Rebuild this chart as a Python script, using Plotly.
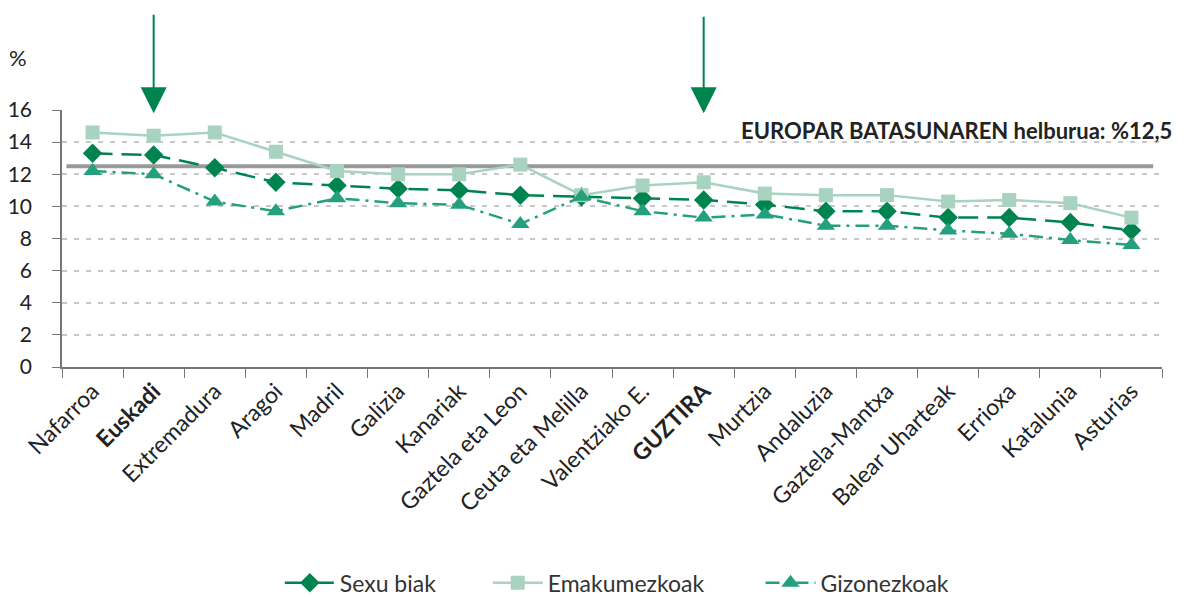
import plotly.graph_objects as go

categories = ["Nafarroa", "Euskadi", "Extremadura", "Aragoi", "Madril", "Galizia",
              "Kanariak", "Gaztela eta Leon", "Ceuta eta Melilla", "Valentziako E.",
              "GUZTIRA", "Murtzia", "Andaluzia", "Gaztela-Mantxa", "Balear Uharteak",
              "Errioxa", "Katalunia", "Asturias"]
tick_labels = ["Nafarroa", "<b>Euskadi</b>", "Extremadura", "Aragoi", "Madril", "Galizia",
               "Kanariak", "Gaztela eta Leon", "Ceuta eta Melilla", "Valentziako E.",
               "<b>GUZTIRA</b>", "Murtzia", "Andaluzia", "Gaztela-Mantxa", "Balear Uharteak",
               "Errioxa", "Katalunia", "Asturias"]
sexu_biak = [13.3, 13.2, 12.4, 11.5, 11.3, 11.1, 11.0, 10.7, 10.6, 10.5,
             10.4, 10.1, 9.7, 9.7, 9.3, 9.3, 9.0, 8.5]
emakumezkoak = [14.6, 14.4, 14.6, 13.4, 12.2, 12.0, 12.0, 12.6, 10.7, 11.3,
                11.5, 10.8, 10.7, 10.7, 10.3, 10.4, 10.2, 9.3]
gizonezkoak = [12.2, 12.0, 10.3, 9.7, 10.5, 10.2, 10.1, 8.9, 10.6, 9.7,
               9.3, 9.5, 8.8, 8.8, 8.5, 8.3, 7.9, 7.6]
target = 12.5
y_ticks = [0, 2, 4, 6, 8, 10, 12, 14, 16]

FONT = "Lato"
DARK = "#00844f"
LIGHT = "#a8d3c0"
MID = "#24a07e"

fig = go.Figure()
fig.add_trace(go.Scatter(
    x=categories, y=sexu_biak, name="Sexu biak", mode="lines+markers", legend="legend",
    line=dict(color=DARK, width=2.5, dash="20px,9px"),
    marker=dict(symbol="diamond", size=15, color=DARK)))
fig.add_trace(go.Scatter(
    x=categories, y=emakumezkoak, name="Emakumezkoak", mode="lines+markers", legend="legend2",
    line=dict(color=LIGHT, width=2.5),
    marker=dict(symbol="square", size=14, color=LIGHT)))
fig.add_trace(go.Scatter(
    x=categories, y=gizonezkoak, name="Gizonezkoak", mode="lines+markers", legend="legend3",
    line=dict(color=MID, width=2.5, dash="14px,6px,3px,6px"),
    marker=dict(symbol="triangle-up", size=16, color=MID)))

fig.add_shape(type="line", xref="paper", yref="y", x0=0.004, x1=0.992,
              y0=target, y1=target, line=dict(color="#999999", width=4), layer="below")

# arrows
for cat, ay in (("Euskadi", -100), ("GUZTIRA", -98)):
    fig.add_annotation(x=cat, y=15.8, ax=0, ay=ay, xref="x", yref="y",
                       showarrow=True, arrowhead=2, arrowsize=2.6, arrowwidth=2,
                       arrowcolor=DARK, text="")

fig.add_annotation(x=1.011, y=14.75, xref="paper", yref="y", xanchor="right", yanchor="middle",
                   text="<b>EUROPAR BATASUNAREN helburua: %12,5</b>", showarrow=False,
                   font=dict(family=FONT, size=22, color="#222222"))
fig.add_annotation(x=-0.05, y=1.205, xref="paper", yref="paper", xanchor="left", yanchor="middle",
                   text="%", showarrow=False, font=dict(family=FONT, size=22, color="#222222"))

legend_common = dict(orientation="h", xanchor="left", y=-0.84, yanchor="middle",
                     font=dict(family=FONT, size=23, color="#333333"),
                     itemwidth=50, bgcolor="rgba(0,0,0,0)")

fig.update_layout(
    width=1178, height=589,
    margin=dict(l=54, r=24, t=102, b=230, autoexpand=False),
    plot_bgcolor="white", paper_bgcolor="white",
    font=dict(family=FONT, size=18, color="#222222"),
    showlegend=True,
    legend=dict(x=0.198, **legend_common),
    legend2=dict(x=0.387, **legend_common),
    legend3=dict(x=0.635, **legend_common),
    xaxis=dict(type="category", tickmode="array", tickvals=categories, ticktext=tick_labels,
               tickangle=-45, ticks="outside", ticklen=9, tickcolor="#777777",
               tickson="boundaries", showline=True, linecolor="#777777", linewidth=1.5,
               showgrid=False, tickfont=dict(family=FONT, size=23, color="#222222"),
               range=[-0.5, 17.5], automargin=False),
    yaxis=dict(range=[0, 16], tickvals=y_ticks, ticks="outside", ticklen=8,
               tickcolor="#777777", showline=True, linecolor="#777777", linewidth=1.5,
               showgrid=True, gridcolor="#c8c8c8", griddash="5px,7px", gridwidth=1.5,
               zeroline=False, tickfont=dict(family=FONT, size=21, color="#222222"),
               ticklabelstandoff=16, automargin=False),
)

fig.write_html("out.html")
